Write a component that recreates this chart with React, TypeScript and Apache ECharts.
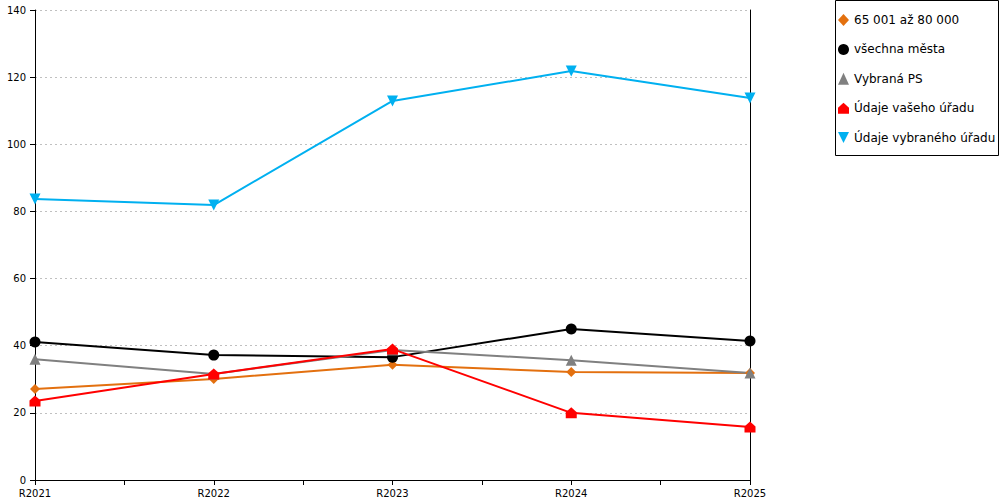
import React, { useEffect, useRef } from "react";
import * as echarts from "echarts";

const categories = ["R2021", "R2022", "R2023", "R2024", "R2025"];
const seriesNames = [
  "65 001 až 80 000",
  "všechna města",
  "Vybraná PS",
  "Údaje vašeho úřadu",
  "Údaje vybraného úřadu",
];
const orangeValues = [27.1, 30.1, 34.3, 32.2, 31.9];
const blackValues = [41.1, 37.2, 36.6, 45.0, 41.4];
const grayValues = [36.0, 31.6, 38.7, 35.7, 31.9];
const redValues = [23.5, 31.6, 39.0, 20.0, 15.8];
const blueValues = [83.7, 81.9, 112.9, 121.8, 113.8];
const yTicks = [0, 20, 40, 60, 80, 100, 120, 140];

const HOUSE = "path://M5,0 L10,4.5 L10,10 L0,10 L0,4.5 Z";
const DOWN = "path://M0,0 L10,0 L5,10 Z";

export default function App() {
  const ref = useRef<HTMLDivElement>(null);
  useEffect(() => {
    if (!ref.current) return;
    const chart = echarts.init(ref.current, undefined, { renderer: "svg" });
    const font = "DejaVu Sans, Verdana, sans-serif";
    const mk = (name: string, vals: number[], color: string, symbol: string, size: number) => ({
      name,
      type: "line",
      data: vals.map((v, i) => [i, v]),
      symbol,
      symbolSize: size,
      showAllSymbol: true,
      lineStyle: { color, width: 2 },
      itemStyle: { color },
      z: 3,
    });
    const icons = ["diamond", "circle", "triangle", HOUSE, DOWN];
    chart.setOption({
      animation: false,
      textStyle: { fontFamily: font },
      grid: { left: 35, top: 10, right: 250, bottom: 20, containLabel: false },
      xAxis: {
        type: "value",
        min: 0,
        max: categories.length - 1,
        interval: 0.5,
        axisLine: { show: true, onZero: false, lineStyle: { color: "#000", width: 1 } },
        axisTick: { show: true, length: 5, lineStyle: { color: "#000" } },
        axisLabel: {
          color: "#000",
          fontSize: 10,
          fontFamily: font,
          margin: 8,
          showMinLabel: true,
          showMaxLabel: true,
          formatter: (v: number) => (Number.isInteger(v) ? categories[v] : ""),
        },
        splitLine: { show: false },
      },
      yAxis: [
        {
          type: "value",
          min: yTicks[0],
          max: yTicks[yTicks.length - 1],
          interval: 20,
          axisLine: { show: true, lineStyle: { color: "#000", width: 1 } },
          axisTick: { show: true, length: 5, lineStyle: { color: "#000" } },
          axisLabel: { color: "#000", fontSize: 10, fontFamily: font, margin: 9 },
          splitLine: { show: true, lineStyle: { color: "#c0c0c0", type: [2, 3], width: 1 } },
        },
        {
          type: "value",
          position: "right",
          min: yTicks[0],
          max: yTicks[yTicks.length - 1],
          interval: 20,
          axisLine: { show: true, lineStyle: { color: "#000", width: 1 } },
          axisTick: { show: false },
          axisLabel: { show: false },
          splitLine: { show: false },
        },
      ],
      legend: {
        orient: "vertical",
        left: 838,
        top: 14,
        itemWidth: 11,
        itemHeight: 12,
        itemGap: 17.4,
        itemTextGap: 7,
        padding: 0,
        textStyle: { color: "#000", fontSize: 12, fontFamily: font },
        data: seriesNames.map((n, i) => ({ name: n, icon: icons[i] })),
      },
      graphic: [
        {
          type: "rect",
          shape: { x: 835.5, y: 0.5, width: 163, height: 155 },
          style: { fill: "none", stroke: "#000", lineWidth: 1 },
        },
      ],
      series: [
        mk(seriesNames[0], orangeValues, "#E3700F", "diamond", 10),
        mk(seriesNames[1], blackValues, "#000000", "circle", 11),
        mk(seriesNames[2], grayValues, "#808080", "triangle", 11),
        mk(seriesNames[3], redValues, "#FF0000", HOUSE, 11),
        mk(seriesNames[4], blueValues, "#00B0F0", DOWN, 11),
      ],
    });
    return () => chart.dispose();
  }, []);
  return <div ref={ref} style={{ width: 1000, height: 500, position: "absolute", left: 0, top: 0 }} />;
}
